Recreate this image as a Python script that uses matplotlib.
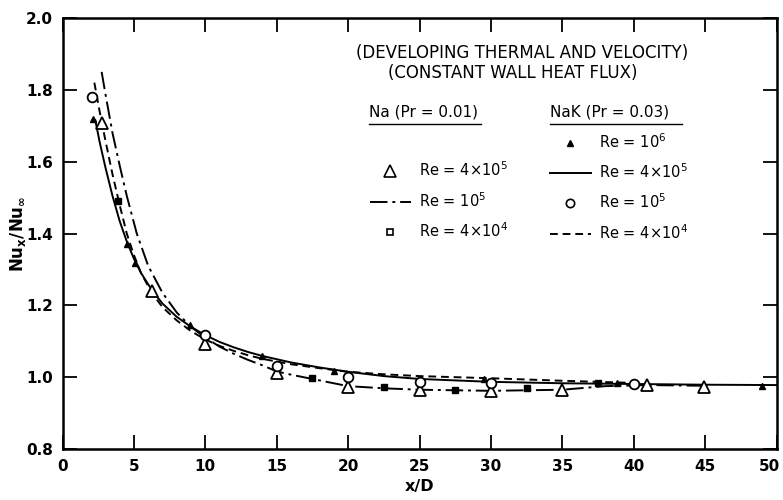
import matplotlib
matplotlib.use("Agg")
import matplotlib.pyplot as plt
import matplotlib.transforms as mtransforms
from matplotlib.lines import Line2D

plt.rcParams['font.family'] = ['DejaVu Sans']
plt.rcParams['mathtext.fontset'] = 'dejavusans'

# ---- data ----
# NaK Re=4e5 (solid line)
solid_x = [2.3, 2.6, 3.0, 3.5, 4.0, 4.5, 5.0, 5.5, 6.25, 7.0, 8.0, 9.0, 10.0, 11.0, 12.0,
           13.0, 14.0, 16.0, 18.0, 20.0, 22.5, 25.0, 30.0, 35.0, 40.0, 45.0, 50.0]
solid_y = [1.715, 1.655, 1.585, 1.505, 1.435, 1.378, 1.33, 1.29, 1.243, 1.205, 1.168, 1.14,
           1.117, 1.098, 1.083, 1.07, 1.059, 1.041, 1.027, 1.015, 1.003, 0.995, 0.987,
           0.983, 0.981, 0.979, 0.978]
# NaK Re=4e4 (dashed line)
dash_x = [2.23, 2.6, 3.0, 3.5, 4.0, 4.5, 5.0, 5.5, 6.25, 7.0, 8.0, 9.0, 10.0, 11.0, 12.0,
          13.0, 14.0, 16.0, 18.0, 20.0, 22.5, 25.0, 30.0, 35.0, 40.0]
dash_y = [1.82, 1.74, 1.66, 1.565, 1.48, 1.40, 1.34, 1.29, 1.235, 1.195, 1.158, 1.128,
          1.105, 1.087, 1.073, 1.061, 1.051, 1.036, 1.025, 1.015, 1.008, 1.003, 0.997,
          0.990, 0.984]
# Na Re=1e5 (dash-dot line)
dd_x = [2.74, 3.0, 3.5, 4.0, 4.5, 5.2, 6.0, 7.0, 8.0, 9.0, 10.0, 11.0, 12.0, 13.0, 14.0,
        15.0, 16.0, 17.5, 20.0, 22.5, 25.0, 30.0, 35.0, 38.0, 41.0, 45.0]
dd_y = [1.85, 1.79, 1.68, 1.59, 1.505, 1.40, 1.31, 1.235, 1.18, 1.14, 1.11, 1.085, 1.065,
        1.048, 1.033, 1.016, 1.007, 0.995, 0.975, 0.969, 0.965, 0.962, 0.965, 0.975,
        0.978, 0.976]
# Na Re=4e5 (open triangles)
tri_x = [2.74, 6.25, 10.0, 15.0, 20.0, 25.0, 30.0, 35.0, 40.9, 44.9]
tri_y = [1.707, 1.24, 1.092, 1.011, 0.974, 0.964, 0.962, 0.964, 0.978, 0.974]
# Na Re=4e4 (small filled squares)
sq_x = [3.9, 17.5, 22.5, 27.5, 32.5, 37.5]
sq_y = [1.49, 0.997, 0.972, 0.964, 0.971, 0.983]
# NaK Re=1e6 (small filled triangles)
ftri_x = [2.15, 4.5, 5.05, 8.9, 13.95, 19.0, 29.5, 38.8, 49.0]
ftri_y = [1.72, 1.37, 1.318, 1.145, 1.059, 1.018, 0.994, 0.985, 0.976]
# NaK Re=1e5 (open circles)
circ_x = [2.1, 10.0, 15.0, 20.0, 25.0, 30.0, 40.0]
circ_y = [1.78, 1.117, 1.031, 1.001, 0.987, 0.985, 0.98]

x_ticks = [0, 5, 10, 15, 20, 25, 30, 35, 40, 45, 50]
y_ticks = [0.8, 1.0, 1.2, 1.4, 1.6, 1.8, 2.0]

W, H = 783, 500
fig = plt.figure(figsize=(W / 100, H / 100), dpi=100)
ax = fig.add_axes([62.5 / W, 1 - 449 / H, (776.5 - 62.5) / W, (449 - 18) / H])

lw = 1.4
DD = (0, (9, 2.5, 1.5, 2.5))
DA = (0, (4, 2.5))
ax.plot(solid_x, solid_y, color='black', lw=lw, ls='-')
ax.plot(dash_x, dash_y, color='black', lw=lw, ls=DA)
ax.plot(dd_x, dd_y, color='black', lw=lw, ls=DD)
ax.plot(tri_x, tri_y, ls='none', marker='^', ms=9, mfc='white', mec='black', mew=1.3)
ax.plot(sq_x, sq_y, ls='none', marker='s', ms=4.5, color='black')
ax.plot(ftri_x, ftri_y, ls='none', marker='^', ms=5, color='black')
ax.plot(circ_x, circ_y, ls='none', marker='o', ms=7, mfc='white', mec='black', mew=1.3)

ax.set_xlim(0, 50)
ax.set_ylim(0.8, 2.0)
ax.set_xticks(x_ticks)
ax.set_yticks(y_ticks)
ax.set_xticklabels([str(v) for v in x_ticks])
ax.set_yticklabels(['%.1f' % v for v in y_ticks])
ax.tick_params(direction='in', length=10, width=1.3, top=True, right=True,
               labelsize=11, pad=7)
for lab in ax.get_xticklabels() + ax.get_yticklabels():
    lab.set_fontweight('bold')
last = ax.get_xticklabels()[-1]
last.set_transform(last.get_transform() +
                   mtransforms.ScaledTranslation(-7 / 100, 0, fig.dpi_scale_trans))
for s in ax.spines.values():
    s.set_linewidth(1.8)

ax.set_xlabel('x/D', fontsize=11.5, fontweight='bold', labelpad=4)
ax.set_ylabel(r'$\mathbf{Nu_x/Nu_\infty}$', fontsize=12)
ax.yaxis.set_label_coords((28 - 62.5) / (776.5 - 62.5), 0.5)

# annotations
fs_t = 12
fig.text(522 / W, 1 - 52.7 / H, '(DEVELOPING THERMAL AND VELOCITY)', ha='center', va='center',
         fontsize=fs_t)
fig.text(513 / W, 1 - 73.3 / H, '(CONSTANT WALL HEAT FLUX)', ha='center', va='center',
         fontsize=fs_t)
fig.text(369 / W, 1 - 111.7 / H, 'Na (Pr = 0.01)', ha='left', va='center', fontsize=11)
fig.text(550 / W, 1 - 111.7 / H, 'NaK (Pr = 0.03)', ha='left', va='center', fontsize=11)
fig.add_artist(Line2D([369 / W, 481 / W], [1 - 124 / H, 1 - 124 / H], color='black', lw=1.0))
fig.add_artist(Line2D([550 / W, 682 / W], [1 - 124 / H, 1 - 124 / H], color='black', lw=1.0))

# legends
h_blank = Line2D([], [], ls='none', marker=None)
h_tri = Line2D([], [], ls='none', marker='^', ms=8, mfc='white', mec='black', mew=1.2)
h_dd = Line2D([], [], color='black', lw=lw, ls=DD)
h_sq = Line2D([], [], ls='none', marker='s', ms=4.5, mfc='white', mec='black', mew=1.2)
h_ftri = Line2D([], [], ls='none', marker='^', ms=5, color='black')
h_solid = Line2D([], [], color='black', lw=lw, ls='-')
h_circ = Line2D([], [], ls='none', marker='o', ms=6, mfc='white', mec='black', mew=1.2)
h_dash = Line2D([], [], color='black', lw=lw, ls=DA)

lab_a = r'Re = 4$\times$10$^{5}$'
lab_b = r'Re = 10$^{5}$'
lab_c = r'Re = 4$\times$10$^{4}$'
lab_d = r'Re = 10$^{6}$'

common = dict(frameon=False, fontsize=10.5, handlelength=2.8, handletextpad=0.55,
              labelspacing=0.8, borderpad=0, borderaxespad=0, loc='upper left')
leg1 = fig.legend([h_blank, h_tri, h_dd, h_sq], [' ', lab_a, lab_b, lab_c],
                  bbox_to_anchor=(370 / W, 1 - 134 / H), **common)
leg2 = fig.legend([h_ftri, h_solid, h_circ, h_dash], [lab_d, lab_a, lab_b, lab_c],
                  bbox_to_anchor=(550 / W, 1 - 132 / H), **common)

fig.savefig('out.png', dpi=100)
